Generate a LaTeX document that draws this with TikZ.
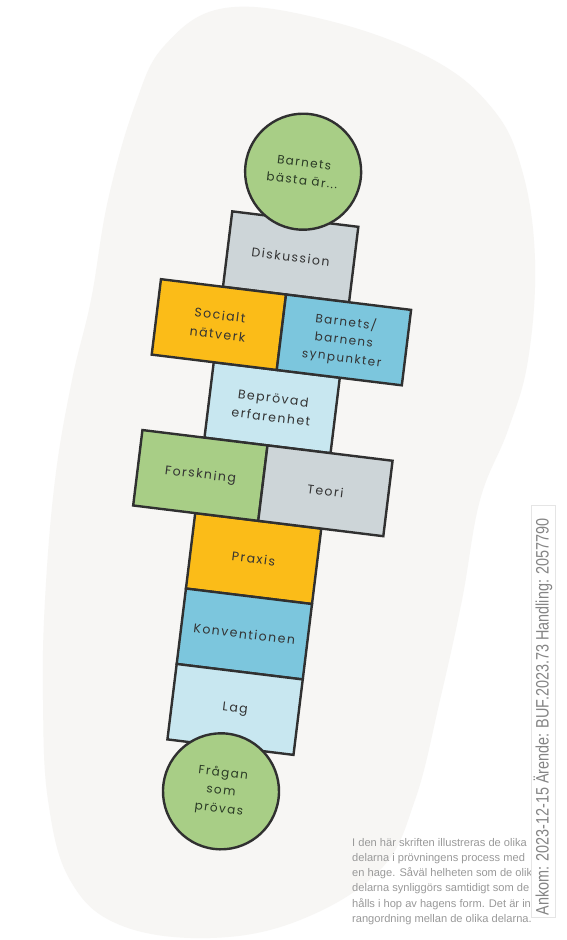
\documentclass[tikz,border=0pt]{standalone}
\usepackage{fontspec}
\setmainfont{Liberation Sans}
\newfontfamily\hfont[LetterSpace=12]{Poppins}
\newfontfamily\stampfont{Liberation Sans}
\usetikzlibrary{calc}
\definecolor{blobC}{HTML}{F7F6F4}
\definecolor{lineC}{HTML}{303030}
\definecolor{greenC}{HTML}{A8CE86}
\definecolor{grayC}{HTML}{CDD5D8}
\definecolor{yellowC}{HTML}{FBBC18}
\definecolor{blueC}{HTML}{7CC6DD}
\definecolor{lightC}{HTML}{C8E7F0}
\definecolor{txtC}{HTML}{333333}
\definecolor{ballTxt}{HTML}{2A3A25}
\definecolor{paraC}{HTML}{999999}
\definecolor{stampC}{HTML}{858585}
\tikzset{
  cell/.style={draw=lineC, line width=2.4pt, rectangle, minimum width=127pt,
    minimum height=76pt, inner sep=0pt, transform shape, align=center,
    text=txtC, font=\hfont\fontsize{12.5}{19}\selectfont},
  half/.style={cell, minimum width=126pt},
  ball/.style={circle, draw=lineC, line width=2.4pt, fill=greenC, minimum size=116pt,
    inner sep=0pt, transform shape, align=center, text=ballTxt,
    font=\hfont\fontsize{12}{18}\selectfont},
  para/.style={anchor=north west, inner sep=0pt, align=left, text=paraC,
    font=\fontsize{11.1}{15.2}\selectfont},
  stamptext/.style={rotate=90, inner sep=0pt, text=stampC,
    font=\stampfont\fontsize{18}{18}\selectfont}
}
\begin{document}
\begin{tikzpicture}[x=1pt,y=-1pt]
\useasboundingbox (0,0) rectangle (567,940);
\fill[white] (0,0) rectangle (567,940);
% background blob
\fill[blobC] plot[smooth cycle, tension=0.65] coordinates {
 (225,8) (326,20) (430,58) (492,108) (522,170) (535,260) (528,360) (508,430)
 (480,500) (462,600) (440,700) (415,800) (380,870) (300,920) (210,938)
 (120,925) (70,880) (48,800) (43,700) (45,600) (55,480) (72,380) (91,300)
 (108,200) (135,105) (165,45)};
% hopscotch
\begin{scope}[shift={(262,482)}, rotate=-7]
 \node[cell, fill=grayC]   (disk)   at (1,-227) {Diskussion};
 \node[cell, fill=lightC]  (bep)    at (1,-75)  {Beprövad\\erfarenhet};
 \node[cell, fill=yellowC] (praxis) at (1,77)   {Praxis};
 \node[cell, fill=blueC]   (konv)   at (1,153)  {Konventionen};
 \node[cell, fill=lightC]  (lag)    at (1,229)  {Lag};
 \node[half, fill=yellowC] (soc)    at (-62,-151) {Socialt\\nätverk};
 \node[half, fill=blueC, font=\hfont\fontsize{12}{18}\selectfont] (barn) at (64,-151) {Barnets/\\barnens\\synpunkter};
 \node[half, fill=greenC]  (forsk)  at (-62,1)    {Forskning};
 \node[half, fill=grayC]   (teori)  at (64,1)     {Teori};
 \node[ball] (topball) at (3,-313) {Barnets\\bästa är...};
 \node[ball] (botball) at (-3,312) {Frågan\\som\\prövas};
\end{scope}
% caption paragraph
\node[para] (caption) at (352,838) {I den här skriften illustreras de olika\\
delarna i prövningens process med\\
en hage. Såväl helheten som de olika\\
delarna synliggörs samtidigt som de\\
hålls i hop av hagens form. Det är ingen\\
rangordning mellan de olika delarna.};
% stamp
\fill[white, draw=black!10] (531,505) rectangle (555,917);
\node[stamptext] (stamp) at (543,717) {\scalebox{0.8}[1]{Ankom: 2023-12-15 Ärende: BUF.2023.73 Handling: 2057790}};
\end{tikzpicture}
\end{document}
